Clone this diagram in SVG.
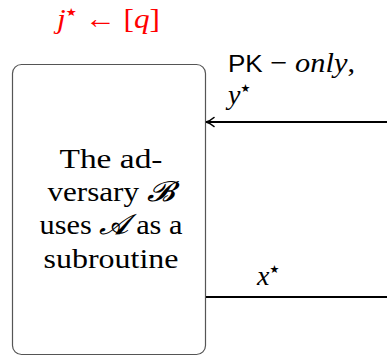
<svg xmlns="http://www.w3.org/2000/svg" width="387" height="356" viewBox="0 0 387 356">
<style>
.t{font-family:"Liberation Serif","DejaVu Serif",serif;font-size:28px;fill:#000}
.i{font-style:italic}
.s{font-family:"Liberation Sans","DejaVu Sans",sans-serif}
.st{font-family:"DejaVu Sans",sans-serif;font-size:11px}
.c{stroke:#000;stroke-width:2;fill:none}
</style>
<defs>
<marker id="ah" markerWidth="12" markerHeight="12" refX="10" refY="6" orient="auto" markerUnits="userSpaceOnUse">
<path d="M2,1.5 Q6,5 10,6 Q6,7 2,10.5" fill="none" stroke="#000" stroke-width="1.6" stroke-linecap="round"/>
</marker>
</defs>
<g id="label-j">
<text class="t" x="57" y="28" style="fill:#ff0000" textLength="103" lengthAdjust="spacingAndGlyphs"><tspan class="i">j</tspan><tspan class="st" dy="-12">★</tspan><tspan dy="12"> ← [</tspan><tspan class="i">q</tspan>]</text>
</g>
<g id="node-B">
<rect x="12.5" y="64.5" width="193" height="290" rx="9" ry="9" fill="#fff" stroke="#555" stroke-width="1.2"/>
<text class="t" text-anchor="middle" x="111" y="168" textLength="103" lengthAdjust="spacingAndGlyphs">The ad-</text>
<text class="t" text-anchor="middle" x="111" y="201" textLength="127" lengthAdjust="spacingAndGlyphs">versary <tspan class="i">𝓑</tspan></text>
<text class="t" text-anchor="middle" x="111" y="234" textLength="143" lengthAdjust="spacingAndGlyphs">uses <tspan class="i">𝓐</tspan> as a</text>
<text class="t" text-anchor="middle" x="111" y="268" textLength="135" lengthAdjust="spacingAndGlyphs">subroutine</text>
</g>
<g id="connectors">
<line class="c" x1="387" y1="122" x2="206" y2="122" marker-end="url(#ah)"/>
<line class="c" x1="206" y1="297" x2="387" y2="297"/>
<text class="t" x="228" y="72" textLength="127" lengthAdjust="spacingAndGlyphs"><tspan class="s" font-size="24">PK</tspan> − <tspan class="i">only</tspan>,</text>
<text class="t" x="228" y="104"><tspan class="i">y</tspan><tspan class="st" dy="-12">★</tspan></text>
<text class="t" x="257" y="285"><tspan class="i">x</tspan><tspan class="st" dy="-12">★</tspan></text>
</g>
</svg>
